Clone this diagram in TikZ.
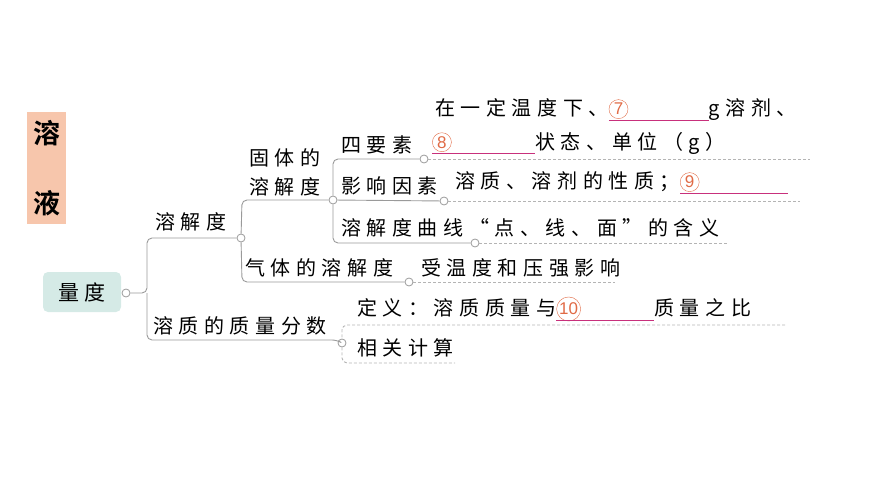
\documentclass[tikz,border=0pt]{standalone}
\usepackage{fontspec}
\newfontfamily\cjk[LetterSpace=28]{Noto Sans CJK SC}
\newfontfamily\cjkb[LetterSpace=0]{Noto Sans CJK SC Bold}
\newfontfamily\numf{Liberation Sans}
\definecolor{ln}{HTML}{9A9A9A}
\definecolor{dl}{HTML}{B4B4B4}
\definecolor{peach}{HTML}{F7C6AC}
\definecolor{teal0}{HTML}{D5EAE6}
\definecolor{orn}{HTML}{E06A45}
\definecolor{mag}{HTML}{C8307C}
\newcommand{\blk}[2]{\makebox[0pt][l]{\raisebox{1pt}{\tikz[baseline=(q.base)]\node[circle,draw=orn,thin,inner sep=0.6pt,minimum size=19pt,text=orn,font=\numf\fontsize{17}{17}\selectfont](q){#1};}}\textcolor{mag}{\rule[-5pt]{#2}{1.3pt}}}
\begin{document}
\begin{tikzpicture}[x=1pt,y=-1pt,
  t/.style={anchor=west,inner sep=0pt,font=\cjk\fontsize{20}{20}\selectfont},
  br/.style={draw=ln,line width=0.9pt,rounded corners=5pt},
  dsh/.style={draw=dl,line width=0.9pt,dashed,dash pattern=on 3pt off 2pt},
  dot/.style={circle,draw=ln,fill=white,line width=0.8pt,inner sep=0pt,minimum size=8pt}]
\useasboundingbox (0,0) rectangle (870,489);
% title
\node[fill=peach,minimum width=39pt,minimum height=112pt,inner sep=0pt] (title) at (46.5,168) {};
\node[font=\cjkb\fontsize{27}{27}\selectfont] (t1) at (46.5,133) {溶};
\node[font=\cjkb\fontsize{27}{27}\selectfont] (t2) at (46.5,203) {液};
% root
\node[fill=teal0,rounded corners=5pt,minimum width=78pt,minimum height=40pt,inner sep=0pt,font=\cjk\fontsize{21}{21}\selectfont] (root) at (82,292) {量度};
\node[dot] (c0) at (126,293) {};
% level 1
\node[dot] (c1) at (241,238) {};
\node[dot] (c2) at (342,343) {};
\draw[br] (c0) -- (147,293) -- (147,238) -- (c1);
\draw[br] (147,293) -- (147,340) -- (337,340) -- (c2);
\node[t] (n1) at (155,222) {溶解度};
\node[t] (n2) at (153,326) {溶质的质量分数};
% level 2
\node[dot] (c3) at (333,200) {};
\node[dot] (c4) at (409,282) {};
\draw[br] (c1) -- (242,200) -- (c3);
\draw[br] (c1) -- (242,282) -- (c4);
\node[t] (n3) at (249,158) {固体的};
\node[t] (n4) at (249,187) {溶解度};
\node[t] (n5) at (245,268) {气体的溶解度};
% level 3
\node[dot] (c5) at (424,159) {};
\node[dot] (c6) at (444,201) {};
\node[dot] (c7) at (475,243) {};
\draw[br] (c3) -- (333,159) -- (c5);
\draw[br] (c3) -- (c6);
\draw[br] (c3) -- (333,243) -- (c7);
\node[t] (n6) at (341,145) {四要素};
\node[t] (n7) at (341,186) {影响因素};
\node[t] (n8) at (341,228) {溶解度曲线“点、线、面”的含义};
% leaves
\node[t] (l1) at (435,110) {在一定温度下、\blk{7}{100pt}g溶剂、};
\node[t] (l2) at (432,143) {\blk{8}{103pt}状态、单位（g）};
\node[t] (l3) at (455,183) {溶质、溶剂的性质；\blk{9}{108pt}};
\node[t] (l4) at (421,268) {受温度和压强影响};
\node[t] (l5) at (357,309) {定义：溶质质量与\blk{10}{98pt}质量之比};
\node[t] (l6) at (357,348) {相关计算};
\coordinate (e5) at (810,159);
\coordinate (e6) at (800,201);
\coordinate (e7) at (728,243);
\coordinate (e4) at (615,282);
\draw[dsh] (c5) -- (e5);
\draw[dsh] (c6) -- (e6);
\draw[dsh] (c7) -- (e7);
\draw[dsh] (c4) -- (e4);
\coordinate (e8) at (785,325);
\coordinate (e9) at (455,363);
\draw[dsh,rounded corners=5pt] (e8) -- (342,325) -- (c2);
\draw[dsh,rounded corners=5pt] (c2) -- (342,363) -- (e9);
\end{tikzpicture}
\end{document}
